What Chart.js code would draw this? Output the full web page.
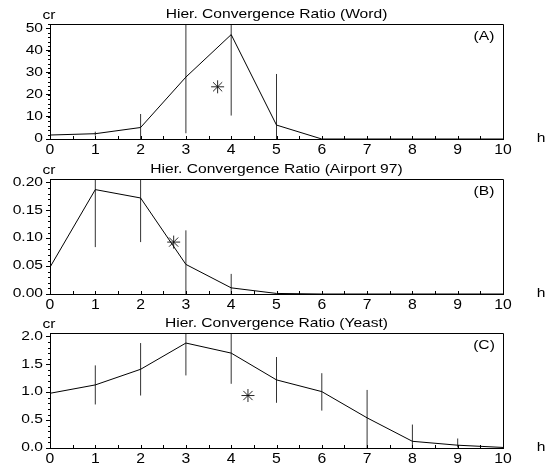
<!DOCTYPE html>
<html>
<head>
<meta charset="utf-8">
<script src="https://cdn.jsdelivr.net/npm/chart.js@4/dist/chart.umd.min.js"></script>
<style>
  html, body { margin: 0; padding: 0; background: #fff; }
  #wrap { position: relative; width: 549px; height: 471px; }
  .panel { position: absolute; left: 0; width: 549px; height: 155px; }
</style>
</head>
<body>
<div id="wrap">
  <div class="panel" style="top:0"><canvas id="cWord"></canvas></div>
  <div class="panel" style="top:155px"><canvas id="cAirport"></canvas></div>
  <div class="panel" style="top:309px"><canvas id="cYeast"></canvas></div>
</div>
<script>
// hierarchy level h (x axis)
const hLevels = [0, 1, 2, 3, 4, 5, 6, 7, 8, 9, 10];

// (A) Word
const wordCr    = [1.8, 2.4, 5.2, 28, 47.2, 6.3, 0, 0, 0, 0, 0];
const wordErrLo = [null, 1.5, -1, 2.6, 10.6, -1, null, null, null, null, null];
const wordErrHi = [null, 3.3, 11.3, 60, 60, 29.4, null, null, null, null, null];
const wordStar  = [{ x: 3.70, y: 23.6 }];

// (B) Airport 97
const airCr    = [0.048, 0.187, 0.172, 0.053, 0.011, 0.001, 0, 0, 0, 0, 0];
const airErrLo = [null, 0.084, 0.093, -0.01, -0.01, null, null, null, null, null, null];
const airErrHi = [null, 0.3, 0.3, 0.114, 0.036, null, null, null, null, null, null];
const airStar  = [{ x: 2.73, y: 0.093 }];

// (C) Yeast
const yeastCr    = [0.98, 1.13, 1.41, 1.88, 1.70, 1.22, 1.01, 0.54, 0.12, 0.05, 0.01];
const yeastErrLo = [null, 0.78, 0.94, 1.30, 1.15, 0.81, 0.67, -0.1, -0.1, 0.01, null];
const yeastErrHi = [null, 1.48, 1.88, 2.5, 2.5, 1.63, 1.34, 1.04, 0.42, 0.17, null];
const yeastStar  = [{ x: 4.37, y: 0.94 }];

const FONT = '"Liberation Sans", Arial, sans-serif';

function drawText(ctx, txt, x, y, align, size, sx) {
    ctx.save();
    ctx.font = size + 'px ' + FONT;
    ctx.fillStyle = '#000';
    ctx.translate(x, y);
    ctx.scale(sx, 1);
    ctx.textAlign = align;
    ctx.textBaseline = 'middle';
    ctx.fillText(txt, 0, 0);
    ctx.restore();
}

// frame, minor ticks and all texts
const panelDecor = {
    id: 'panelDecor',
    afterDraw(chart, args, opts) {
        const ctx = chart.ctx;
        const a = chart.chartArea;
        const xs = chart.scales.x, ys = chart.scales.y;
        ctx.save();
        ctx.strokeStyle = '#000';
        ctx.lineWidth = 1;
        ctx.beginPath();
        ctx.moveTo(a.left, a.top + 0.5);
        ctx.lineTo(a.right + 0.5, a.top + 0.5);
        ctx.lineTo(a.right + 0.5, a.bottom);
        // y minor ticks
        const minor = opts.step / 5;
        for (let v = 0; v <= ys.max + 1e-9; v += minor) {
            const py = Math.round(ys.getPixelForValue(v)) + 0.5;
            ctx.moveTo(a.left - 2, py);
            ctx.lineTo(a.left, py);
        }
        // x ticks pointing inward every 0.5
        for (let v = 0.5; v < 10; v += 0.5) {
            const px = Math.round(xs.getPixelForValue(v)) + 0.5;
            ctx.moveTo(px, a.bottom);
            ctx.lineTo(px, a.bottom - 3);
        }
        ctx.stroke();
        ctx.restore();

        ys.ticks.forEach(t => {
            drawText(ctx, t.value.toFixed(opts.decimals), a.left - 7, ys.getPixelForValue(t.value), 'right', 12, 1.3);
        });
        xs.ticks.forEach(t => {
            drawText(ctx, String(t.value), xs.getPixelForValue(t.value), a.bottom + 11, 'center', 15, 1.05);
        });
        drawText(ctx, opts.title, (a.left + a.right) / 2, a.top - 10, 'center', 13, 1.2);
        drawText(ctx, 'cr', a.left - 1, a.top - 9, 'center', 13, 1.2);
        drawText(ctx, opts.tag, a.right - 19, a.top + 12, 'center', 13, 1.2);
        drawText(ctx, 'h', 541, a.bottom - 1, 'center', 13, 1.2);
    }
};

function errorSegments(lo, hi) {
    const pts = [];
    hLevels.forEach((h, i) => {
        if (lo[i] === null) return;
        pts.push({ x: h, y: lo[i] }, { x: h, y: hi[i] }, { x: h, y: null });
    });
    return pts;
}

function makePanel(id, cr, lo, hi, star, yMax, step, decimals, title, tag) {
    new Chart(document.getElementById(id), {
        type: 'line',
        data: {
            datasets: [
                {
                    data: hLevels.map((h, i) => ({ x: h, y: cr[i] })),
                    borderColor: '#000',
                    borderWidth: 1,
                    pointRadius: 0,
                    tension: 0
                },
                {
                    data: errorSegments(lo, hi),
                    borderColor: '#333',
                    borderWidth: 1,
                    pointRadius: 0,
                    spanGaps: false
                },
                {
                    type: 'scatter',
                    data: star,
                    pointStyle: 'star',
                    pointRadius: 6.5,
                    borderColor: '#111',
                    borderWidth: 0.9,
                    backgroundColor: '#000'
                }
            ]
        },
        options: {
            responsive: true,
            maintainAspectRatio: false,
            animation: false,
            layout: { padding: { top: 24, right: 46, left: 0, bottom: 0 } },
            plugins: {
                legend: { display: false },
                tooltip: { enabled: false },
                panelDecor: { title: title, tag: tag, step: step, decimals: decimals }
            },
            scales: {
                x: {
                    type: 'linear',
                    min: 0,
                    max: 10,
                    ticks: { stepSize: 1, display: false },
                    grid: { display: false },
                    border: { display: true, color: '#000', width: 1 },
                    afterFit: s => { s.height = 16; }
                },
                y: {
                    min: 0,
                    max: yMax,
                    ticks: { stepSize: step, display: false, includeBounds: false },
                    grid: { drawOnChartArea: false, drawTicks: true, tickLength: 4, color: '#000' },
                    border: { display: true, color: '#000', width: 1 },
                    afterFit: s => { s.width = 50; }
                }
            }
        },
        plugins: [panelDecor]
    });
}

makePanel('cWord', wordCr, wordErrLo, wordErrHi, wordStar, 52, 10, 0, 'Hier. Convergence Ratio (Word)', '(A)');
makePanel('cAirport', airCr, airErrLo, airErrHi, airStar, 0.206, 0.05, 2, 'Hier. Convergence Ratio (Airport 97)', '(B)');
makePanel('cYeast', yeastCr, yeastErrLo, yeastErrHi, yeastStar, 2.06, 0.5, 1, 'Hier. Convergence Ratio (Yeast)', '(C)');
</script>
</body>
</html>
